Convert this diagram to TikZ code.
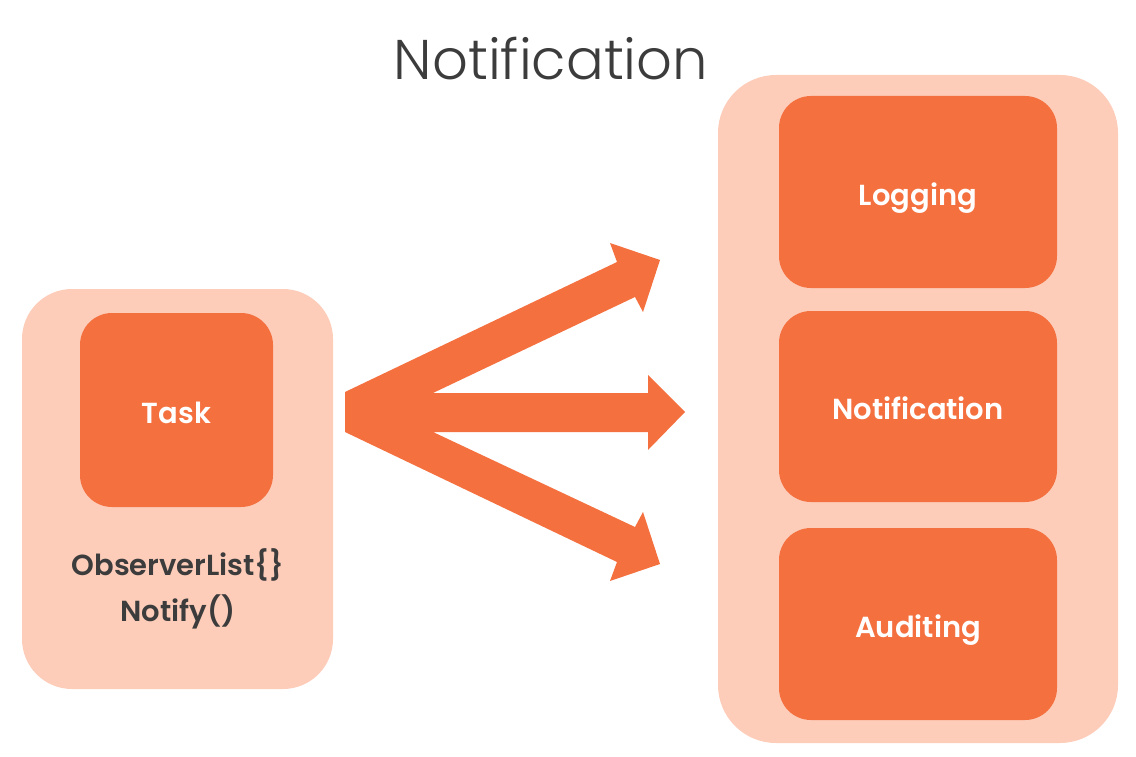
\documentclass[tikz,border=0pt]{standalone}
\usepackage{fontspec}
\setmainfont{Poppins}
\IfFontExistsTF{Poppins Light}{\newfontfamily\titlefont{Poppins Light}}{\newfontfamily\titlefont{Poppins}}
\IfFontExistsTF{Poppins SemiBold}{\newfontfamily\labelfont{Poppins SemiBold}}{\newcommand\labelfont{\bfseries}}
\definecolor{orangebox}{HTML}{F4703F}
\definecolor{peachbox}{HTML}{FDCDBA}
\definecolor{darktext}{HTML}{3C3C3C}
\tikzset{
    outerbox/.style={fill=peachbox,rounded corners=50pt,inner sep=0pt},
    innerbox/.style={fill=orangebox,rounded corners=32pt,inner sep=0pt,text=white,text height=26pt,text depth=0pt,font=\labelfont\fontsize{29}{34}\selectfont},
}

\begin{document}
\begin{tikzpicture}[x=1pt,y=-1pt,line join=miter]
    \useasboundingbox (0,0) rectangle (1136,757);
    
    \node[text=darktext,font=\titlefont\fontsize{56}{60}\selectfont] (title) at (551,59) {Notification};
    
    % left side
    \node[outerbox,minimum width=311pt,minimum height=400pt] (subject) at (177.5,489) {};
    \node[innerbox,minimum width=193pt,minimum height=194pt] (task) at (176.5,410) {Task};
    \node[text=darktext,font=\labelfont\fontsize{29}{46}\selectfont,align=center] (methods) at (178,589) {ObserverList\{\}\\Notify()};
    
    % right side
    \node[outerbox,minimum width=400pt,minimum height=668pt,rounded corners=58pt] (observers) at (918,409) {};
    \node[innerbox,minimum width=278pt,minimum height=192pt] (logging) at (918,192) {Logging};
    \node[innerbox,minimum width=278pt,minimum height=191pt] (notify) at (918,406.5) {Notification};
    \node[innerbox,minimum width=278pt,minimum height=192pt] (auditing) at (918,624) {Auditing};
    
    % the three arrows
    \fill[orangebox] (345,392) -- (617,262) -- (610,243) -- (660,260) -- (643,312) -- (635,297) -- (433,393)
        -- (648,393) -- (648,375) -- (685,412) -- (648,450) -- (648,432) -- (433,432)
        -- (635,527) -- (643,512) -- (660,564) -- (610,581) -- (617,562) -- (345,432) -- cycle;
    
\end{tikzpicture}
\end{document}
